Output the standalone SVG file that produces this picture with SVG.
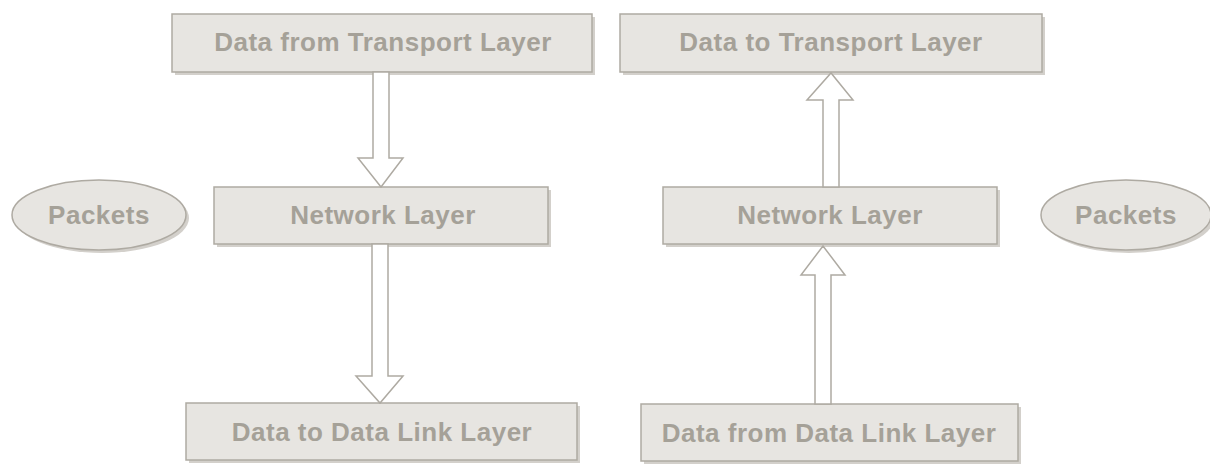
<svg xmlns="http://www.w3.org/2000/svg" width="1210" height="464" viewBox="0 0 1210 464">
  <defs>
    <style>
      .box { fill: #e7e5e1; stroke: #aeaaa2; stroke-width: 1.5; }
      .shadow { fill: #d3d0cb; }
      .label { font-family: "Liberation Sans", Arial, sans-serif; font-weight: bold; font-size: 26px; letter-spacing: 0.5px; fill: #a5a198; text-anchor: middle; }
      .arrow { fill: #ffffff; stroke: #aeaaa2; stroke-width: 1.5; stroke-linejoin: miter; }
    </style>
  </defs>
  <rect width="1210" height="464" fill="#ffffff"/>

  <!-- sending side -->
  <g id="data-from-transport">
    <rect class="shadow" x="175" y="17" width="420" height="58"/>
    <rect class="box" x="172" y="14" width="420" height="58"/>
    <text class="label" x="383" y="51">Data from Transport Layer</text>
  </g>
  <g id="network-left">
    <rect class="shadow" x="217" y="190" width="334" height="57"/>
    <rect class="box" x="214" y="187" width="334" height="57"/>
    <text class="label" x="383" y="224">Network Layer</text>
  </g>
  <g id="data-to-datalink">
    <rect class="shadow" x="189" y="406" width="391" height="57"/>
    <rect class="box" x="186" y="403" width="391" height="57"/>
    <text class="label" x="382" y="441">Data to Data Link Layer</text>
  </g>
  <g id="packets-left">
    <ellipse class="shadow" cx="102" cy="218" rx="87" ry="35"/>
    <ellipse class="box" cx="99" cy="215" rx="87" ry="35"/>
    <text class="label" x="99" y="224">Packets</text>
  </g>

  <!-- receiving side -->
  <g id="data-to-transport">
    <rect class="shadow" x="623" y="17" width="422" height="58"/>
    <rect class="box" x="620" y="14" width="422" height="58"/>
    <text class="label" x="831" y="51">Data to Transport Layer</text>
  </g>
  <g id="network-right">
    <rect class="shadow" x="666" y="190" width="334" height="57"/>
    <rect class="box" x="663" y="187" width="334" height="57"/>
    <text class="label" x="830" y="224">Network Layer</text>
  </g>
  <g id="data-from-datalink">
    <rect class="shadow" x="644" y="407" width="377" height="57"/>
    <rect class="box" x="641" y="404" width="377" height="57"/>
    <text class="label" x="829" y="442">Data from Data Link Layer</text>
  </g>
  <g id="packets-right">
    <ellipse class="shadow" cx="1129" cy="218" rx="85" ry="35"/>
    <ellipse class="box" cx="1126" cy="215" rx="85" ry="35"/>
    <text class="label" x="1126" y="224">Packets</text>
  </g>

  <!-- block arrows between layers -->
  <g id="connectors">
    <path class="arrow" d="M373,72 L389,72 L389,158 L403,158 L381,187 L358,158 L373,158 Z"/>
    <path class="arrow" d="M372,244 L388,244 L388,376 L403,376 L380,403 L356,376 L372,376 Z"/>
    <path class="arrow" d="M815,404 L831,404 L831,275 L845,275 L823,246 L801,275 L815,275 Z"/>
    <path class="arrow" d="M823,187 L839,187 L839,100 L853,100 L831,73 L807,100 L823,100 Z"/>
  </g>
</svg>
